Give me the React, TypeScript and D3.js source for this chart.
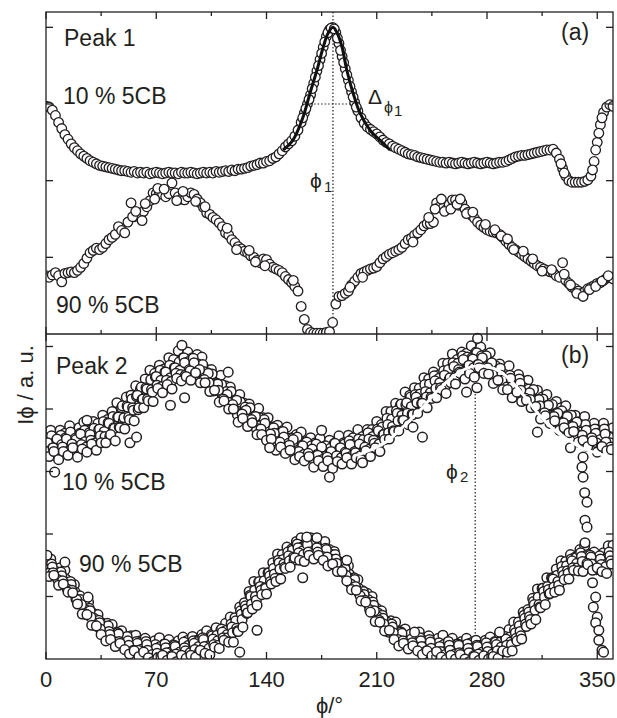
import React from "react";
import * as d3 from "d3";

// angles (deg) of the scans
const anglesA = d3.range(0, 361, 2);
const anglesB1 = d3.range(0, 361, 3);
const anglesB2 = d3.range(1, 360, 3);
const anglesB3 = d3.range(2, 360, 3);
const anglesB4 = d3.range(0.5, 360, 3);
const anglesB5 = d3.range(1.5, 360, 3);

// axis ticks
const xMajor = [0, 70, 140, 210, 280, 350];
const xMinor = [35, 105, 175, 245, 315];
const yTicksA = [10, 20, 30, 40];
const yTicksB = [10, 20, 30, 40, 50];

// ---- panel (a), peak 1 ----
const peak1Ten = [
  29.7, 29.6, 29.2, 28.5, 27.6, 26.8, 26.0, 25.4, 24.8, 24.3,
  23.9, 23.5, 23.2, 22.9, 22.6, 22.4, 22.2, 22.0, 21.9, 21.8,
  21.7, 21.6, 21.5, 21.4, 21.3, 21.3, 21.2, 21.1, 21.2, 21.0,
  21.1, 21.0, 21.1, 20.9, 21.0, 21.1, 21.0, 20.9, 21.0, 21.1,
  21.0, 21.0, 20.9, 21.1, 21.0, 21.0, 21.1, 21.0, 20.9, 21.0,
  21.1, 21.0, 21.1, 21.0, 21.2, 21.1, 21.2, 21.3, 21.2, 21.4,
  21.3, 21.5, 21.5, 21.6, 21.7, 21.9, 22.0, 22.1, 22.3, 22.3,
  22.5, 22.6, 22.9, 23.1, 23.5, 23.9, 24.4, 24.8, 25.2, 25.8,
  26.6, 27.6, 28.8, 30.0, 31.2, 32.7, 34.3, 35.8, 37.4, 38.8,
  39.7, 40.0, 39.3, 37.9, 36.2, 34.6, 33.1, 31.6, 30.2, 29.1,
  28.2, 27.5, 27.0, 26.7, 26.4, 26.1, 25.7, 25.3, 25.0, 24.8,
  24.5, 24.3, 24.1, 23.9, 23.7, 23.5, 23.4, 23.3, 23.1, 23.0,
  22.9, 22.8, 22.7, 22.6, 22.5, 22.4, 22.4, 22.3, 22.4, 22.3,
  22.2, 22.3, 22.4, 22.3, 22.2, 22.3, 22.4, 22.3, 22.2, 22.3,
  22.4, 22.3, 22.2, 22.3, 22.4, 22.4, 22.5, 22.7, 22.9, 23.1,
  23.2, 23.3, 23.3, 23.4, 23.5, 23.6, 23.7, 23.8, 23.9, 24.0,
  24.0, 24.1, 23.6, 22.8, 21.6, 20.6, 20.0, 19.8, 19.8, 19.8,
  19.8, 19.9, 20.1, 20.6, 22.5, 25.0, 27.3, 28.9, 29.6, 29.9,
  29.7,
];
const peak1TenOddPhi = [163, 165, 167, 169, 171, 173, 175, 177, 179, 181, 183, 185, 187, 189, 191, 193, 195, 197, 327, 329, 347, 349, 351, 353];
const peak1TenOdd = [28.2, 29.4, 30.6, 32.0, 33.5, 35.0, 36.6, 38.1, 39.3, 39.9, 39.8, 38.6, 37.0, 35.4, 33.8, 32.3, 30.9, 29.6, 22.2, 21.0, 21.4, 24.0, 26.2, 28.2];

const peak1Ninety = [
  7.6, 7.4, 7.7, 8.0, 7.6, 6.8, 7.9, 8.0, 8.1, 8.0,
  8.3, 8.7, 9.2, 9.9, 10.6, 10.9, 11.2, 11.0, 11.3, 11.8,
  12.3, 12.6, 13.0, 14.0, 13.5, 13.2, 14.6, 17.1, 15.3, 15.8,
  15.3, 16.0, 16.6, 17.4, 18.4, 18.3, 18.5, 18.2, 17.9, 18.3,
  19.7, 18.4, 17.9, 17.6, 17.5, 17.9, 18.4, 18.2, 17.6, 17.1,
  16.5, 15.8, 15.6, 15.2, 14.9, 14.5, 14.0, 13.2, 12.9, 12.3,
  11.9, 11.4, 11.1, 10.8, 10.6, 10.2, 10.0, 9.6, 9.3, 9.8,
  9.7, 9.1, 8.7, 8.5, 8.3, 8.0, 7.5, 7.1, 6.7, 6.2,
  5.6, 3.6, 1.9, 0.6, 0.2, 0.1, 0.1, 0.1, 0.1, 0.2,
  0.3, 1.5, 3.9, 4.9, 5.0, 5.3, 5.6, 6.4, 6.9, 7.4,
  7.9, 8.1, 8.3, 8.5, 8.6, 8.8, 9.3, 9.8, 10.1, 10.4,
  10.6, 10.8, 11.0, 11.3, 11.8, 12.3, 12.5, 12.9, 13.2, 13.6,
  14.1, 14.4, 14.4, 14.6, 17.1, 16.6, 16.4, 16.2, 16.9, 17.5,
  17.5, 16.8, 17.1, 16.3, 15.9, 15.5, 15.1, 14.6, 14.2, 13.9,
  13.6, 13.4, 13.3, 13.2, 13.0, 12.6, 12.1, 11.7, 11.3, 11.0,
  10.7, 10.4, 10.1, 9.8, 9.5, 9.2, 8.9, 8.7, 8.5, 8.3,
  8.1, 8.0, 7.6, 7.4, 9.3, 7.0, 6.6, 6.1, 5.9, 5.6,
  5.3, 5.5, 5.9, 6.1, 6.3, 6.6, 6.7, 7.0, 7.3, 7.4,
  7.2,
];
const peak1NinetyExtra: [number, number][] = [
  [55, 15.3], [57, 16.0], [61, 14.8], [63, 17.0], [69, 17.6], [71, 19.0], [75, 18.9], [83, 17.4],
  [87, 18.6], [95, 17.3], [101, 16.6], [115, 13.8], [121, 11.0], [129, 10.9], [133, 9.4], [139, 8.9],
  [157, 7.0], [193, 6.1], [201, 7.4], [233, 12.0], [243, 15.2], [247, 16.3], [251, 17.6], [253, 16.0],
  [257, 16.3], [261, 16.9], [263, 17.6], [267, 15.7], [271, 15.9], [279, 14.3], [285, 13.6], [289, 12.8],
  [293, 12.4], [297, 11.0], [303, 10.8], [309, 9.8], [315, 8.2], [321, 8.4], [329, 7.8], [333, 6.4],
  [337, 5.3], [341, 4.9], [345, 5.8], [349, 6.2], [353, 6.9], [357, 7.6],
];
// Lorentzian fit of peak 1
const peak1Fit: [number, number][] = [
  [150.5, 24.0], [156.8, 25.3], [163.2, 28.3], [167.6, 31.4], [172, 34.4], [176, 37.4], [179, 39.2],
  [182.2, 40.0], [185, 39.2], [188, 37.4], [191, 34.4], [195, 31.4], [199.4, 28.8], [205.7, 26.6],
  [214, 24.9], [218.4, 24.0],
];
const phi1 = 182.2;
const halfMax1 = 30.0;

// ---- panel (b), peak 2 ----
const peak2TenA = [
  35.8, 36.6, 35.5, 36.6, 36.1, 37.3, 36.1, 37.0, 37.9, 36.6,
  38.0, 37.7, 39.0, 38.3, 39.6, 41.0, 40.2, 41.9, 42.2, 43.7,
  43.2, 44.8, 46.2, 45.7, 47.0, 46.4, 48.2, 47.9, 49.3, 48.2,
  49.1, 48.2, 48.7, 48.3, 46.3, 46.3, 44.7, 45.4, 43.7, 43.5,
  41.6, 42.3, 40.9, 40.8, 39.5, 40.1, 38.6, 38.6, 37.1, 37.4,
  36.5, 37.1, 35.4, 35.9, 36.3, 34.8, 35.4, 34.6, 35.3, 34.0,
  35.0, 34.5, 35.7, 34.6, 35.8, 35.4, 36.7, 35.6, 36.7, 36.7,
  38.0, 37.5, 39.6, 39.6, 40.9, 40.6, 42.7, 42.2, 43.4, 43.3,
  45.0, 44.8, 45.9, 45.4, 47.3, 47.3, 48.8, 47.9, 49.1, 48.9,
  50.1, 49.1, 49.9, 48.7, 49.0, 47.0, 47.2, 46.1, 46.9, 45.1,
  45.5, 44.5, 44.6, 42.8, 43.0, 41.9, 42.3, 40.5, 41.2, 40.2,
  40.5, 38.8, 39.0, 38.0, 38.8, 37.2, 37.7, 36.8, 37.7, 36.7,
  37.0,
];
const peak2TenB = [
  34.6, 33.7, 35.2, 34.3, 35.2, 34.0, 35.1, 36.0, 34.8, 35.9,
  34.9, 36.8, 36.4, 37.7, 37.0, 38.7, 38.0, 40.3, 40.2, 42.2,
  41.5, 43.2, 43.1, 45.2, 44.6, 45.9, 45.0, 46.6, 46.2, 47.4,
  46.3, 47.4, 45.8, 46.0, 45.7, 43.8, 44.0, 42.1, 42.3, 41.1,
  41.4, 39.3, 39.8, 38.0, 38.8, 37.3, 37.7, 35.9, 36.1, 34.5,
  35.5, 34.5, 35.1, 33.4, 34.1, 32.8, 33.6, 32.7, 33.9, 32.5,
  33.2, 32.3, 33.8, 33.1, 34.3, 33.2, 34.4, 33.4, 35.2, 35.0,
  36.5, 35.9, 37.5, 37.2, 39.3, 39.0, 41.0, 40.4, 41.9, 41.2,
  42.8, 42.6, 44.5, 44.2, 45.4, 44.7, 46.8, 46.3, 47.9, 46.8,
  48.0, 47.1, 48.2, 46.8, 47.4, 45.4, 45.4, 43.9, 44.9, 43.6,
  44.1, 42.2, 42.6, 40.7, 41.5, 40.1, 40.6, 38.9, 39.3, 37.9,
  38.8, 37.2, 37.9, 36.3, 36.6, 35.1, 36.1, 35.1, 36.0, 34.6,
];
const peak2TenC = [
  32.4, 33.2, 31.9, 33.2, 32.6, 33.8, 32.3, 33.6, 33.1, 34.4,
  33.4, 34.6, 34.6, 35.9, 34.9, 37.0, 36.8, 38.3, 38.1, 40.2,
  40.2, 41.3, 41.2, 43.3, 42.6, 43.9, 43.2, 44.9, 44.5, 45.2,
  44.6, 45.8, 44.2, 44.2, 42.8, 43.0, 41.1, 41.3, 40.0, 40.0,
  37.9, 38.5, 37.2, 37.8, 35.9, 35.9, 35.0, 35.2, 33.4, 33.9,
  32.9, 33.4, 31.9, 32.4, 31.7, 32.4, 30.7, 31.7, 30.8, 31.7,
  30.5, 31.6, 31.2, 32.2, 31.2, 32.2, 31.9, 33.3, 32.4, 33.8,
  33.2, 35.1, 35.2, 36.4, 36.5, 38.2, 37.5, 39.1, 39.3, 40.9,
  40.2, 41.7, 41.8, 43.1, 42.5, 44.2, 44.0, 45.7, 44.8, 45.7,
  45.1, 46.6, 45.7, 45.6, 44.1, 44.6, 43.1, 43.1, 41.8, 42.7,
  41.2, 41.4, 40.2, 40.4, 38.4, 38.9, 37.7, 38.1, 36.6, 37.0,
  36.2, 36.4, 34.7, 35.0, 34.0, 34.9, 33.1, 34.0, 33.3, 33.5,
];
const peak2TenD = [
  35.1, 35.7, 34.9, 35.8, 35.4, 36.3, 35.3, 36.1, 36.6, 36.2,
  36.9, 36.7, 38.0, 37.8, 38.8, 38.7, 40.5, 40.5, 41.6, 42.0,
  43.5, 43.4, 44.7, 45.1, 46.2, 45.9, 47.0, 46.6, 47.5, 48.2,
  47.6, 48.1, 47.2, 47.1, 45.8, 45.6, 44.1, 43.9, 42.8, 42.8,
  41.0, 41.1, 40.3, 40.2, 38.8, 38.6, 38.3, 36.8, 37.0, 36.1,
  36.4, 35.3, 35.3, 35.5, 34.2, 34.7, 34.1, 34.4, 33.4, 34.1,
  33.7, 34.5, 33.7, 34.4, 34.9, 34.4, 35.2, 35.1, 36.2, 35.6,
  36.8, 37.1, 38.5, 38.4, 39.7, 40.8, 40.7, 41.9, 42.3, 42.4,
  43.9, 44.0, 45.3, 44.9, 46.1, 46.3, 47.4, 47.3, 48.5, 48.3,
  48.2, 49.0, 48.5, 48.5, 47.1, 46.9, 46.5, 45.1, 45.4, 44.5,
  44.8, 43.4, 43.2, 43.1, 41.5, 41.6, 40.6, 40.7, 39.4, 39.7,
  38.9, 39.0, 37.5, 37.5, 37.5, 36.5, 36.8, 36.2, 36.8, 35.5,
];
const peak2TenE = [
  33.2, 33.8, 33.1, 33.9, 33.2, 34.4, 33.8, 34.3, 33.9, 35.0,
  34.6, 35.7, 35.6, 35.6, 36.9, 37.1, 38.6, 38.7, 39.8, 39.9,
  41.6, 41.6, 42.7, 43.8, 43.6, 44.6, 44.4, 45.7, 45.5, 45.4,
  46.1, 45.4, 46.3, 44.7, 44.2, 42.9, 43.0, 41.6, 41.1, 40.7,
  39.1, 39.2, 38.4, 38.3, 36.9, 36.8, 35.5, 36.0, 34.8, 34.7,
  33.8, 34.2, 32.9, 33.2, 32.7, 32.9, 32.0, 32.6, 31.9, 32.3,
  31.6, 32.5, 32.2, 32.9, 32.4, 33.0, 32.5, 33.9, 33.6, 34.5,
  34.4, 35.9, 36.2, 36.5, 38.1, 38.2, 39.3, 39.2, 41.0, 40.9,
  41.9, 41.9, 43.3, 43.4, 43.6, 45.0, 45.0, 45.9, 45.6, 47.0,
  46.6, 47.1, 46.4, 46.6, 45.5, 44.5, 44.6, 43.5, 43.5, 42.3,
  43.0, 41.7, 41.5, 40.3, 40.5, 39.4, 38.4, 38.8, 37.8, 37.8,
  36.7, 37.2, 35.9, 35.8, 34.9, 35.4, 34.6, 34.0, 34.7, 33.9,
];
const peak2TenOutliers: [number, number][] = [
  [5.5, 29.9], [26, 38.2], [53.3, 34.6], [57.5, 35.5], [79, 40.6], [86.3, 50.2], [88, 41.8],
  [115.7, 45.9], [142, 33.8], [175, 36.6], [180, 29.1], [201, 31.4], [233, 37.1], [239, 35.5],
  [267, 42.7], [273.6, 43.4], [274, 51.3], [312, 36.3], [333, 33.8],
  [341, 32.3], [340.3, 30.7], [341, 29.1], [342, 26.6], [343.5, 25.1], [342.2, 22.2],
  [343.5, 21.1], [342.2, 18.6],
];

const peak2NinetyA = [
  15.8, 16.0, 14.5, 14.6, 14.2, 12.3, 11.9, 9.9, 9.5, 9.1,
  7.3, 7.1, 5.7, 5.7, 5.5, 4.3, 4.5, 3.4, 3.7, 3.8,
  2.9, 3.3, 2.2, 2.9, 3.4, 2.4, 3.1, 2.3, 2.9, 3.5,
  3.0, 3.6, 3.0, 3.9, 4.5, 3.9, 5.0, 4.6, 5.7, 6.7,
  6.6, 8.3, 9.0, 10.8, 12.4, 12.3, 13.8, 13.8, 15.4, 16.8,
  16.7, 17.9, 17.6, 18.8, 19.4, 18.6, 19.4, 18.4, 18.7, 18.8,
  17.5, 17.2, 15.6, 15.4, 14.9, 13.0, 12.7, 10.9, 10.5, 10.0,
  8.1, 7.7, 6.0, 6.1, 5.9, 4.5, 4.8, 3.7, 4.1, 4.3,
  3.4, 3.7, 2.6, 3.3, 3.8, 2.7, 3.3, 2.4, 2.8, 3.3,
  2.6, 3.0, 2.2, 3.0, 3.5, 2.8, 3.8, 3.5, 4.7, 5.9,
  5.9, 7.5, 7.9, 9.7, 11.2, 11.3, 13.0, 13.0, 14.4, 15.7,
  15.6, 16.7, 16.3, 17.5, 18.1, 16.8, 17.1, 16.3, 17.0, 18.1,
  18.2,
];
const peak2NinetyB = [
  14.3, 14.7, 13.1, 13.3, 11.9, 11.9, 9.6, 9.5, 7.9, 7.7,
  5.7, 5.8, 4.2, 4.4, 3.3, 4.0, 2.5, 2.9, 1.7, 2.5,
  1.6, 2.3, 1.0, 1.7, 0.7, 1.8, 1.1, 2.0, 1.1, 1.8,
  1.2, 2.5, 2.0, 3.1, 2.1, 3.2, 2.9, 4.3, 3.9, 5.1,
  4.9, 7.2, 8.0, 10.0, 10.0, 11.6, 11.4, 13.3, 13.6, 15.4,
  15.2, 16.5, 16.3, 17.8, 17.3, 18.3, 17.2, 17.8, 16.9, 17.5,
  16.0, 16.0, 14.2, 14.4, 12.8, 12.7, 10.5, 10.3, 8.6, 8.6,
  6.7, 6.5, 4.7, 5.1, 3.8, 4.1, 2.7, 3.2, 2.0, 2.9,
  2.0, 2.7, 1.5, 2.0, 1.2, 2.2, 1.4, 2.2, 0.9, 1.7,
  1.0, 2.0, 1.1, 1.9, 1.0, 2.3, 1.9, 3.2, 2.7, 4.2,
  4.4, 6.5, 6.8, 8.7, 8.7, 10.8, 11.1, 12.8, 12.4, 14.0,
  14.1, 15.7, 15.3, 16.4, 15.6, 16.3, 15.2, 16.0, 15.1, 16.5,
];
const peak2NinetyC = [
  13.2, 13.4, 11.8, 12.0, 10.7, 10.6, 8.8, 7.2, 7.1, 5.4,
  5.3, 3.9, 2.9, 3.1, 2.0, 2.5, 1.5, 0.8, 1.3, 0.4,
  1.1, 0.2, -0.4, 0.2, 0.6, -0.2, 0.4, -0.4, 0.6, 0.1,
  0.6, 0.3, 1.4, 0.9, 0.7, 1.9, 1.7, 3.0, 2.7, 2.7,
  4.4, 5.1, 7.4, 8.0, 8.6, 10.3, 10.4, 12.0, 12.4, 12.8,
  14.5, 14.7, 16.2, 15.8, 15.6, 16.6, 16.0, 16.6, 15.8, 14.9,
  15.2, 14.0, 14.0, 12.5, 11.1, 11.0, 9.3, 9.1, 7.5, 6.0,
  5.9, 4.5, 4.6, 3.1, 2.1, 2.5, 1.6, 2.1, 1.3, 0.7,
  1.3, 0.5, 1.2, 0.3, -0.1, 0.6, 0.0, 0.7, 0.0, -0.4,
  0.4, -0.2, 0.5, 0.0, 0.4, 0.1, 1.3, 1.1, 1.3, 2.9,
  3.2, 5.2, 5.6, 6.3, 8.2, 8.7, 10.5, 10.7, 11.0, 12.7,
  12.8, 14.2, 14.1, 14.0, 15.1, 14.2, 14.6, 14.0, 13.7, 15.2,
];
const peak2NinetyD = [
  15.2, 15.2, 14.0, 13.9, 12.8, 12.4, 10.7, 10.1, 8.7, 8.1,
  6.5, 6.2, 5.3, 5.3, 4.0, 4.2, 3.5, 3.6, 2.6, 2.8,
  2.3, 2.8, 1.9, 2.3, 2.0, 2.4, 1.7, 2.2, 2.0, 2.7,
  2.2, 2.9, 2.8, 3.4, 2.9, 3.7, 3.8, 4.8, 4.6, 5.6,
  6.1, 7.7, 8.5, 10.2, 11.0, 12.4, 12.5, 13.8, 14.5, 15.8,
  15.9, 17.1, 17.4, 18.4, 17.9, 18.5, 18.3, 18.5, 17.6, 17.7,
  16.8, 16.7, 15.2, 14.8, 13.6, 13.0, 11.3, 10.8, 9.5, 9.1,
  7.4, 7.0, 5.9, 5.6, 4.3, 4.3, 3.7, 4.0, 3.1, 3.4,
  2.9, 3.1, 2.2, 2.6, 2.3, 2.8, 2.0, 2.4, 2.0, 2.4,
  1.7, 2.2, 1.9, 2.6, 2.0, 2.7, 2.7, 3.6, 3.5, 4.7,
  5.3, 7.0, 7.5, 9.2, 9.9, 11.3, 11.6, 12.9, 13.4, 14.8,
  14.9, 16.0, 16.2, 17.0, 16.5, 16.6, 15.9, 16.5, 16.0, 17.1,
];
const peak2NinetyE = [
  13.7, 13.8, 12.7, 12.5, 11.2, 11.0, 9.5, 8.7, 7.1, 6.7,
  5.3, 4.8, 3.7, 3.9, 2.8, 2.8, 1.9, 2.2, 1.4, 1.4,
  0.7, 1.4, 0.7, 0.9, 0.4, 1.0, 0.5, 0.8, 0.4, 1.3,
  1.0, 1.5, 1.2, 2.0, 1.7, 2.3, 2.2, 3.4, 3.4, 4.2,
  4.5, 6.3, 7.3, 8.8, 9.4, 11.0, 11.3, 12.4, 12.9, 14.4,
  14.7, 15.7, 15.8, 17.0, 16.7, 17.1, 16.7, 17.1, 16.4, 16.3,
  15.2, 15.3, 14.0, 13.4, 12.0, 11.6, 10.1, 9.4, 7.9, 7.7,
  6.2, 5.6, 4.3, 4.2, 3.1, 2.9, 2.1, 2.6, 1.9, 2.0,
  1.3, 1.7, 1.0, 1.2, 0.7, 1.4, 0.8, 1.0, 0.4, 1.0,
  0.5, 0.8, 0.3, 1.2, 0.8, 1.3, 1.1, 2.2, 2.3, 3.3,
  3.7, 5.6, 6.3, 7.8, 8.3, 9.9, 10.4, 11.5, 11.8, 13.4,
  13.7, 14.6, 14.6, 15.6, 15.3, 15.2, 14.3, 15.1, 14.8, 15.7,
];
const peak2NinetyOutliers: [number, number][] = [
  [0.6, 16.6], [12, 15.5], [26.7, 9.9], [123, 1.1], [134, 4.6], [163, 13.0], [165.6, 19.5],
  [172, 19.4], [191, 15.8], [234, 4.3], [288, 4.3],
  [347, 12.2], [349, 9.9], [347.5, 8.3], [350, 6.7], [349, 5.8], [351, 4.6], [351, 3.0],
  [353, 1.4], [354, 1.1],
];
// fit of peak 2
const peak2Fit: [number, number][] = [
  [197.3, 32.6], [205.7, 33.4], [216.3, 34.8], [226.9, 37.2], [237.5, 39.8], [248.1, 42.8],
  [258.6, 45.2], [267.1, 46.5], [273.4, 46.9], [279.8, 46.8], [288.3, 46.0], [296.7, 44.1],
  [305.2, 41.6], [313.7, 38.9], [322.1, 36.8], [330.6, 35.2], [339.0, 33.9], [347.5, 33.1],
  [360.0, 32.3],
];
const phi2 = 272.5;
const phi2Top = 46.9;

const ink = "#231f20";
const font = "'Liberation Sans', Arial, 'DejaVu Sans', sans-serif";
const R = 4.8;

export default function App() {
  const left = 46, right = 613, top = 12, mid = 334, bottom = 659;
  const x = d3.scaleLinear().domain([0, 360]).range([left, right]);
  const yA = d3.scaleLinear().domain([0, 42]).range([mid, top]);
  const yB = d3.scaleLinear().domain([0, 52]).range([bottom, mid]);

  const fit = (y: d3.ScaleLinear<number, number>) =>
    d3.line<[number, number]>().x(d => x(d[0])).y(d => y(d[1])).curve(d3.curveCatmullRom);

  const dots = (angles: number[], vals: number[], y: d3.ScaleLinear<number, number>, k: string) =>
    vals.map((v, i) => <circle key={k + i} cx={x(angles[i])} cy={y(v)} r={R} />);
  const pairs = (pts: [number, number][], y: d3.ScaleLinear<number, number>, k: string) =>
    pts.map((p, i) => <circle key={k + i} cx={x(p[0])} cy={y(p[1])} r={R} />);

  const txt = { fontFamily: font, fill: ink } as const;

  return (
    <svg width={617} height={718} style={{ position: "absolute", left: 0, top: 0, background: "#fff" }}>
      <defs>
        <clipPath id="clipA"><rect x={left} y={top} width={right - left} height={mid - top} /></clipPath>
        <clipPath id="clipB"><rect x={left} y={top} width={right - left} height={bottom - top} /></clipPath>
      </defs>

      {/* guide lines */}
      <g stroke={ink} strokeWidth={1.2} strokeDasharray="1.5,2" fill="none">
        <line x1={x(phi1)} x2={x(phi1)} y1={top} y2={mid} />
        <line x1={x(168)} x2={x(194)} y1={yA(halfMax1)} y2={yA(halfMax1)} />
        <line x1={x(phi2)} x2={x(phi2)} y1={yB(phi2Top)} y2={bottom} />
      </g>

      {/* panel (a) */}
      <g clipPath="url(#clipA)" fill="#fff" stroke={ink} strokeWidth={1.3}>
        {dots(anglesA, peak1Ninety, yA, "a90")}
        {pairs(peak1NinetyExtra, yA, "a90x")}
        {dots(anglesA, peak1Ten, yA, "a10")}
        {dots(peak1TenOddPhi, peak1TenOdd, yA, "a10o")}
      </g>
      <path d={fit(yA)(peak1Fit) || ""} fill="none" stroke="#111" strokeWidth={3} />

      {/* panel (b) */}
      <g clipPath="url(#clipB)" fill="#fff" stroke={ink} strokeWidth={1.5}>
        {dots(anglesB1, peak2NinetyA, yB, "b90a")}
        {dots(anglesB4, peak2NinetyD, yB, "b90d")}
        {dots(anglesB2, peak2NinetyB, yB, "b90b")}
        {dots(anglesB5, peak2NinetyE, yB, "b90e")}
        {dots(anglesB3, peak2NinetyC, yB, "b90c")}
        {pairs(peak2NinetyOutliers, yB, "b90o")}
        {dots(anglesB1, peak2TenA, yB, "b10a")}
        {dots(anglesB4, peak2TenD, yB, "b10d")}
        {dots(anglesB2, peak2TenB, yB, "b10b")}
        {dots(anglesB5, peak2TenE, yB, "b10e")}
        {dots(anglesB3, peak2TenC, yB, "b10c")}
        {pairs(peak2TenOutliers, yB, "b10o")}
      </g>
      <path d={fit(yB)(peak2Fit) || ""} fill="none" stroke="#fff" strokeWidth={3} />

      {/* frame */}
      <g stroke={ink} strokeWidth={1.3} fill="none">
        <rect x={left} y={top} width={right - left} height={bottom - top} />
        <line x1={left} x2={right} y1={mid} y2={mid} />
        {xMajor.map(t => (
          <g key={"xM" + t}>
            <line x1={x(t)} x2={x(t)} y1={top} y2={top + 7} />
            <line x1={x(t)} x2={x(t)} y1={mid - 7} y2={mid + 7} />
            <line x1={x(t)} x2={x(t)} y1={bottom} y2={bottom - 7} />
          </g>
        ))}
        {xMinor.map(t => (
          <g key={"xm" + t}>
            <line x1={x(t)} x2={x(t)} y1={top} y2={top + 4} />
            <line x1={x(t)} x2={x(t)} y1={mid - 4} y2={mid} />
            <line x1={x(t)} x2={x(t)} y1={bottom} y2={bottom - 4} />
          </g>
        ))}
        {yTicksA.map(t => (
          <g key={"ya" + t}>
            <line x1={left} x2={left + 7} y1={yA(t)} y2={yA(t)} />
            <line x1={right} x2={right - 7} y1={yA(t)} y2={yA(t)} />
          </g>
        ))}
        {yTicksB.map(t => (
          <g key={"yb" + t}>
            <line x1={left} x2={left + 7} y1={yB(t)} y2={yB(t)} />
            <line x1={right} x2={right - 7} y1={yB(t)} y2={yB(t)} />
          </g>
        ))}
      </g>

      {/* tick labels */}
      {xMajor.map(t => (
        <text key={"xl" + t} x={x(t)} y={687} textAnchor="middle" fontSize={22} style={txt}>{t}</text>
      ))}
      <text x={(left + right) / 2} y={713} textAnchor="middle" fontSize={22} style={txt}>ϕ/°</text>
      <text transform="translate(33,385) rotate(-90)" textAnchor="middle" fontSize={22} style={txt}>Iϕ / a. u.</text>

      {/* annotations */}
      <g fontSize={23} style={txt}>
        <text x={64} y={46}>Peak 1</text>
        <text x={63} y={104}>10 % 5CB</text>
        <text x={56} y={313}>90 % 5CB</text>
        <text x={561} y={40}>(a)</text>
        <text x={56} y={374}>Peak 2</text>
        <text x={62} y={490}>10 % 5CB</text>
        <text x={79} y={572}>90 % 5CB</text>
        <text x={561} y={363}>(b)</text>
      </g>
      <text x={310} y={188} fontSize={21} style={txt}>ϕ</text>
      <text x={324} y={192} fontSize={15} style={txt}>1</text>
      <text x={368} y={104} fontSize={21} style={txt}>Δ</text>
      <text x={384} y={113} fontSize={16} style={txt}>ϕ</text>
      <text x={394} y={116} fontSize={15} style={txt}>1</text>
      <text x={446} y={479} fontSize={21} style={txt}>ϕ</text>
      <text x={460} y={482} fontSize={15} style={txt}>2</text>
    </svg>
  );
}
